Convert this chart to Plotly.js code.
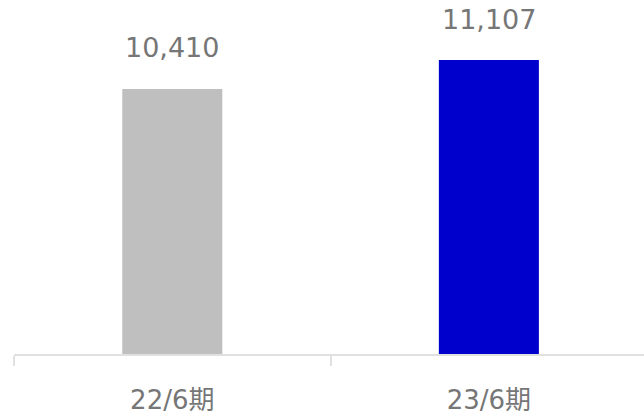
<!DOCTYPE html>
<html><head><meta charset="utf-8">
<script src="https://cdn.plot.ly/plotly-3.0.1.min.js"></script>
<style>html,body{margin:0;padding:0;background:#fff;}</style>
</head><body>
<div id="chart" style="width:644px;height:414px;"></div>
<script>
const categories = ["22/6期", "23/6期"];
const values = [10410, 11107];
const barColors = ["#bfbfbf", "#0000cc"];
const valueLabels = values.map(v => v.toLocaleString("en-US"));

const fontFamily = "'DejaVu Sans', Verdana, 'Noto Sans CJK JP', sans-serif";
const textColor = "#767676";

const trace = {
  type: "bar",
  x: categories,
  y: values,
  marker: {color: barColors},
  width: 0.316,
  hoverinfo: "none"
};

const annotations = categories.map((c, i) => ({
  x: c, y: values[i], xref: "x", yref: "y",
  text: valueLabels[i], showarrow: false,
  yanchor: "middle", yshift: 41,
  font: {family: fontFamily, size: 27, color: textColor}
}));

const layout = {
  width: 644, height: 414,
  margin: {l: 14, r: 0, t: 0, b: 60},
  paper_bgcolor: "#fff", plot_bgcolor: "#fff",
  showlegend: false,
  xaxis: {
    type: "category",
    range: [-0.5, 1.49],
    showline: true, linecolor: "#e0e0e0", linewidth: 2,
    ticks: "outside", tickson: "boundaries", ticklen: 10, tickcolor: "#e0e0e0", tickwidth: 2,
    tickfont: {family: fontFamily, size: 26, color: textColor},
    ticklabelstandoff: 22,
    showgrid: false, zeroline: false
  },
  yaxis: {
    range: [4000, 12560],
    visible: false, showgrid: false, zeroline: false
  },
  annotations: annotations
};

Plotly.newPlot("chart", [trace], layout, {staticPlot: true, displayModeBar: false});
</script>
</body></html>
